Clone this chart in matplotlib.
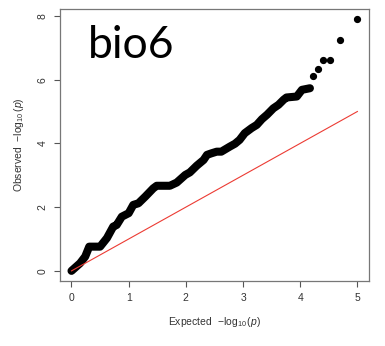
import matplotlib
matplotlib.use("Agg")
import matplotlib.pyplot as plt

# QQ curve: expected vs observed -log10(p)
curve_exp = [0.0, 0.15, 0.24, 0.31, 0.50, 0.62, 0.73, 0.79, 0.88, 1.00, 1.08,
             1.17, 1.29, 1.43, 1.49, 1.72, 1.84, 1.99, 2.07, 2.19, 2.31, 2.37,
             2.45, 2.54, 2.62, 2.77, 2.86, 2.94, 3.03, 3.15, 3.24, 3.33, 3.42,
             3.53, 3.62, 3.71, 3.76, 3.94, 4.03, 4.17]
curve_obs = [0.0, 0.24, 0.45, 0.76, 0.76, 1.03, 1.39, 1.44, 1.70, 1.81, 2.07,
             2.12, 2.33, 2.59, 2.67, 2.67, 2.77, 3.01, 3.09, 3.30, 3.48, 3.64,
             3.69, 3.74, 3.74, 3.90, 3.99, 4.11, 4.32, 4.48, 4.58, 4.76, 4.90,
             5.10, 5.21, 5.37, 5.44, 5.47, 5.68, 5.73]
# the few top hits drawn as separate dots
top_exp = [4.22, 4.31, 4.39, 4.52, 4.70, 5.00]
top_obs = [6.11, 6.33, 6.61, 6.61, 7.24, 7.90]
diag = [0, 5]

plt.rcParams["font.family"] = ["Liberation Sans", "DejaVu Sans"]
plt.rcParams["mathtext.fontset"] = "custom"
plt.rcParams["mathtext.rm"] = "Liberation Sans"
plt.rcParams["mathtext.it"] = "Liberation Sans:italic"

fig = plt.figure(figsize=(3.85, 3.46), dpi=100)
ax = fig.add_axes([0.156, 0.188, 0.802, 0.786])

ax.plot(curve_exp, curve_obs, color="black", lw=5.8, solid_capstyle="round",
        solid_joinstyle="round", zorder=2)
ax.plot(top_exp, top_obs, "o", color="black", ms=4.2, mec="black", zorder=2)
ax.plot(diag, diag, color="#ec3b33", lw=0.8, zorder=3)

ax.set_xlim(-0.2, 5.2)
ax.set_ylim(-0.316, 8.216)
ax.set_xticks([0, 1, 2, 3, 4, 5])
ax.set_yticks([0, 2, 4, 6, 8])
ax.tick_params(length=4, width=0.8, color="#555555", labelsize=7.5,
               labelcolor="#333333", pad=5)
for lab in ax.get_yticklabels():
    lab.set_rotation(90)
    lab.set_va("center")
for s in ax.spines.values():
    s.set_color("#777777")
    s.set_linewidth(0.9)

ax.set_xlabel(r"Expected  $-\log_{10}(p)$", fontsize=7.5, color="#333333",
              labelpad=8)
ax.set_ylabel(r"Observed  $-\log_{10}(p)$", fontsize=7.5, color="#333333",
              labelpad=8)

ax.text(0.09, 0.94, "bio6", transform=ax.transAxes, fontsize=32,
        family="Lato", va="top", ha="left", color="black")

fig.savefig("out.png", dpi=100)
